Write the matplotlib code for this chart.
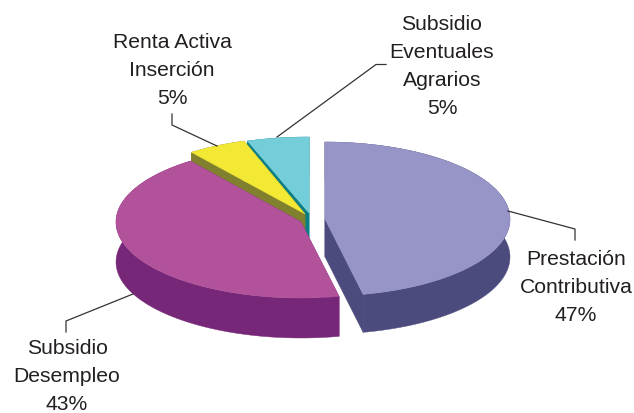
import numpy as np
import matplotlib
matplotlib.use("Agg")
import matplotlib.pyplot as plt

plt.rcParams['font.family'] = ['Liberation Sans', 'DejaVu Sans']

labels = ["Prestación\nContributiva", "Subsidio\nDesempleo", "Renta Activa\nInserción", "Subsidio\nEventuales\nAgrarios"]
values = [46.7, 43.1, 5.0, 5.2]
pct_labels = ["47%", "43%", "5%", "5%"]
top_colors = ["#9794C8", "#B2529B", "#F3E935", "#73CEDA"]
side_colors = ["#4C4B7D", "#772777", "#80802F", "#0B7F84"]

# apex of each slice in pixels, they are pulled apart by hand
apex_x = [325, 301, 305, 309]
apex_y = [220, 223, 215, 214]
rad_x = [185, 185, 190, 192]
rad_y = [77, 76, 77, 76]
depths = [38, 40, 38, 38]

label_x = [576, 67, 172, 442]
label_y = [288, 377, 71, 67]
leaders = [
    ([508, 575, 575], [212, 230, 241]),
    ([133, 66, 66], [295, 322, 333]),
    ([217, 172, 172], [147, 126, 115]),
    ([277, 376, 386], [138, 65.5, 65.5]),
]

fig = plt.figure(figsize=(6.34, 4.14), dpi=100)
ax = fig.add_axes([0, 0, 1, 1])
ax.set_xlim(0, 634)
ax.set_ylim(414, 0)
ax.axis("off")

edges = np.cumsum([0] + values) / sum(values) * 360

# back slices first so the front ones cover them
for i in [3, 2, 1, 0]:
    ang = np.radians(np.linspace(edges[i], edges[i + 1], 120))
    arc_x = apex_x[i] + rad_x[i] * np.sin(ang)
    arc_y = apex_y[i] - rad_y[i] * np.cos(ang)
    xs = np.r_[apex_x[i], arc_x]
    ys = np.r_[apex_y[i], arc_y]
    d = depths[i]
    z = 1 + (3 - i) * 2
    # outer wall, then the two cut faces, then the top
    ax.fill(np.r_[arc_x, arc_x[::-1]], np.r_[arc_y, arc_y[::-1] + d], color=side_colors[i], lw=0.3, zorder=z)
    for ex, ey in [(arc_x[0], arc_y[0]), (arc_x[-1], arc_y[-1])]:
        ax.fill([apex_x[i], ex, ex, apex_x[i]],
                [apex_y[i], ey, ey + d, apex_y[i] + d],
                color=side_colors[i], lw=0.3, zorder=z)
    ax.fill(xs, ys, color=top_colors[i], lw=0.3, zorder=z + 1)

for (lx, ly) in leaders:
    ax.plot(lx, ly, color="#333333", lw=0.9, zorder=20)

for i in range(4):
    ax.text(label_x[i], label_y[i], labels[i] + "\n" + pct_labels[i], ha="center", va="center",
            fontsize=15.2, color="#231F20", linespacing=1.6, zorder=21)

plt.savefig("out.png", dpi=100)
plt.close()
